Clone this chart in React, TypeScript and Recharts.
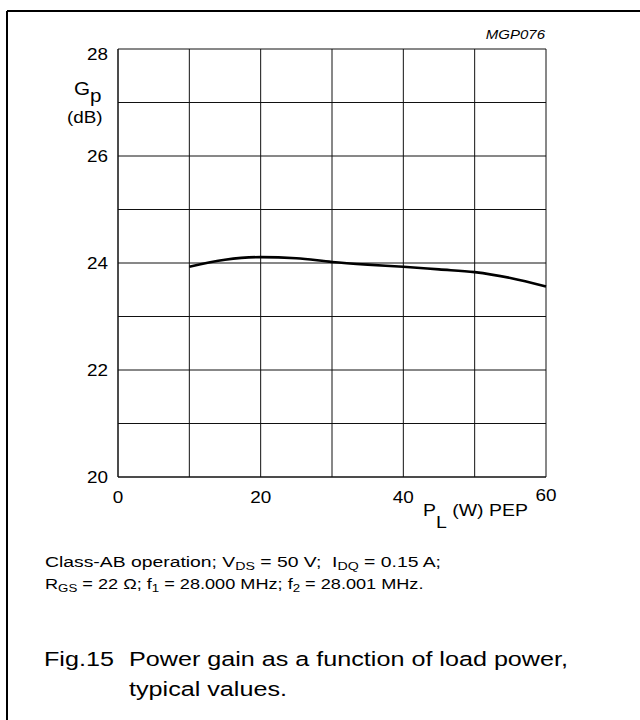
import React from 'react';
import { LineChart, Line, XAxis, YAxis, CartesianGrid } from 'recharts';

const loadPower = [10, 15, 20, 25, 30, 35, 40, 45, 50, 55, 60];
const powerGain = [23.93, 24.06, 24.11, 24.09, 24.02, 23.97, 23.93, 23.88, 23.83, 23.72, 23.56];
const xTicks = [0, 10, 20, 30, 40, 50, 60];
const xLabels = [0, 20, 40, 60];
const yTicks = [20, 21, 22, 23, 24, 25, 26, 27, 28];
const yLabels = [20, 22, 24, 26, 28];

const data = loadPower.map((p, i) => ({ p, g: powerGain[i] }));

const FONT = '"Liberation Sans", Arial, Helvetica, sans-serif';
const SX = 1.18;

function YTick(props: any) {
  const { x, y, payload } = props;
  if (!yLabels.includes(payload.value)) return <g />;
  const shift = payload.value === 28 ? 5 : 0;
  return (
    <g transform={`translate(${x},${y + shift}) scale(${SX},1)`}>
      <text x={0} y={0} dy="0.355em" textAnchor="end" fontSize={16} fill="#000" fontFamily={FONT}>
        {payload.value}
      </text>
    </g>
  );
}

function XTick(props: any) {
  const { x, y, payload } = props;
  if (!xLabels.includes(payload.value)) return <g />;
  const shift = payload.value === 60 ? 18 : 20;
  return (
    <g transform={`translate(${x},${y + shift}) scale(${SX},1)`}>
      <text x={0} y={0} textAnchor="middle" fontSize={16} fill="#000" fontFamily={FONT}>
        {payload.value}
      </text>
    </g>
  );
}

export default function App() {
  return (
    <div style={{ position: 'absolute', left: 0, top: 0, width: 640, height: 720, background: '#fff', overflow: 'hidden' }}>
      <LineChart
        width={640}
        height={720}
        data={data}
        margin={{ top: 49, left: 58, right: 94, bottom: 213 }}
      >
        <CartesianGrid stroke="#111" strokeWidth={1} />
        <XAxis
          dataKey="p"
          type="number"
          domain={[0, 60]}
          ticks={xTicks}
          tick={XTick}
          tickLine={false}
          axisLine={{ stroke: '#111' }}
          tickMargin={0}
          interval={0}
        />
        <YAxis
          type="number"
          domain={[20, 28]}
          ticks={yTicks}
          tick={YTick}
          tickLine={false}
          axisLine={{ stroke: '#111' }}
          tickMargin={4}
          interval={0}
        />
        <Line
          dataKey="g"
          type="monotone"
          stroke="#000"
          strokeWidth={2.6}
          dot={false}
          isAnimationActive={false}
        />
      </LineChart>
      <svg
        width={640}
        height={720}
        style={{ position: 'absolute', left: 0, top: 0, pointerEvents: 'none' }}
        fontFamily={FONT}
      >
        <line x1={7} y1={11} x2={640} y2={11} stroke="#000" strokeWidth={2} />
        <line x1={7} y1={11} x2={7} y2={720} stroke="#000" strokeWidth={2} />

        <g transform={`translate(545,39) scale(1.2,1)`}>
          <text x={0} y={0} textAnchor="end" fontSize={12.5} fontStyle="italic" fill="#000">MGP076</text>
        </g>

        <g transform={`translate(74,95) scale(${SX},1)`}>
          <text x={0} y={0} fontSize={17.5} fill="#000">
            G<tspan dy={7}>p</tspan>
          </text>
        </g>
        <g transform={`translate(67,123) scale(${SX},1)`}>
          <text x={0} y={0} fontSize={16} fill="#000">(dB)</text>
        </g>

        <g transform={`translate(423,516) scale(${SX},1)`}>
          <text x={0} y={0} fontSize={16.5} fill="#000" style={{ whiteSpace: 'pre' }}>
            P<tspan dy={12}>L</tspan><tspan dy={-12}> (W) PEP</tspan>
          </text>
        </g>

        <g transform={`translate(45,567) scale(1.29,1)`}>
          <text x={0} y={0} fontSize={15} fill="#000" style={{ whiteSpace: 'pre' }}>
            Class-AB operation; V<tspan fontSize={11} dy={3}>DS</tspan><tspan dy={-3}> = 50 V;  I</tspan><tspan fontSize={11} dy={3}>DQ</tspan><tspan dy={-3}> = 0.15 A;</tspan>
          </text>
        </g>
        <g transform={`translate(45,589) scale(1.21,1)`}>
          <text x={0} y={0} fontSize={15} fill="#000" style={{ whiteSpace: 'pre' }}>
            R<tspan fontSize={11} dy={3}>GS</tspan><tspan dy={-3}> = 22 Ω; f</tspan><tspan fontSize={11} dy={3}>1</tspan><tspan dy={-3}> = 28.000 MHz; f</tspan><tspan fontSize={11} dy={3}>2</tspan><tspan dy={-3}> = 28.001 MHz.</tspan>
          </text>
        </g>

        <g transform={`translate(44,666) scale(1.29,1)`}>
          <text x={0} y={0} fontSize={19.5} fill="#000">Fig.15</text>
        </g>
        <g transform={`translate(129,666) scale(1.29,1)`}>
          <text x={0} y={0} fontSize={19.5} fill="#000">Power gain as a function of load power,</text>
        </g>
        <g transform={`translate(129,696) scale(1.29,1)`}>
          <text x={0} y={0} fontSize={19.5} fill="#000">typical values.</text>
        </g>
      </svg>
    </div>
  );
}
